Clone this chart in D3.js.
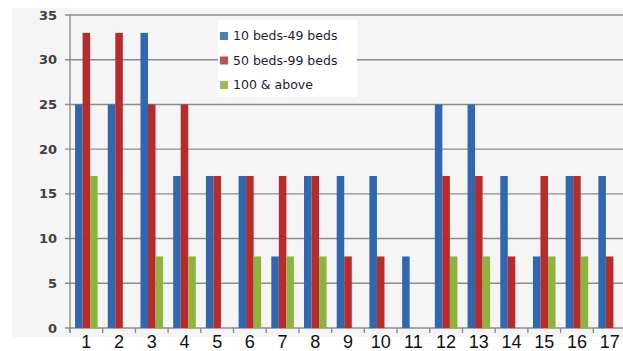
<!DOCTYPE html>
<html>
<head>
<meta charset="utf-8">
<script src="https://cdn.jsdelivr.net/npm/d3@7"></script>
<style>
  body { margin: 0; background: #fff; }
  svg { display: block; }
</style>
</head>
<body>
<svg id="chart" width="623" height="351"></svg>
<script>
// chart data
const categories = ["1","2","3","4","5","6","7","8","9","10","11","12","13","14","15","16","17"];
const seriesNames = ["10 beds-49 beds", "50 beds-99 beds", "100 & above"];
const small = [25, 25, 33, 17, 17, 17, 8, 17, 17, 17, 8, 25, 25, 17, 8, 17, 17];
const medium = [33, 33, 25, 25, 17, 17, 17, 17, 8, 8, 0, 17, 17, 8, 17, 17, 8];
const large = [17, 0, 8, 8, 0, 8, 8, 8, 0, 0, 0, 8, 8, 0, 8, 8, 0];
const yTicks = [0, 5, 10, 15, 20, 25, 30, 35];

const colors = ["#3167b1", "#b72b2b", "#8cb53e"];
const legendColors = ["#4a7ebf", "#c0504d", "#9bbb59"];
const values = [small, medium, large];

const width = 623, height = 351;
const margin = { top: 15, left: 70, bottom: 23 };
const plotRight = 626;

const svg = d3.select("#chart");

// light plot background
svg.append("rect")
  .attr("x", 12).attr("y", 8)
  .attr("width", width - 12).attr("height", 329)
  .attr("fill", "#f5f5f5");

const x = d3.scaleBand()
  .domain(categories)
  .range([margin.left, plotRight])
  .paddingInner(0.31)
  .paddingOuter(0.155);

const y = d3.scaleLinear()
  .domain([0, 35])
  .range([height - margin.bottom, margin.top]);

const xSub = d3.scaleBand()
  .domain(d3.range(seriesNames.length))
  .range([0, x.bandwidth()]);

// grid lines
svg.append("g")
  .selectAll("line")
  .data(yTicks)
  .join("line")
  .attr("x1", margin.left - 5)
  .attr("x2", width)
  .attr("y1", d => y(d))
  .attr("y2", d => y(d))
  .attr("stroke", "#8c8c8c")
  .attr("stroke-width", 1.4);

// y labels
svg.append("g")
  .selectAll("text")
  .data(yTicks)
  .join("text")
  .attr("x", 57)
  .attr("y", d => y(d))
  .attr("dy", "0.35em")
  .attr("text-anchor", "end")
  .attr("font-family", "DejaVu Sans, sans-serif")
  .attr("font-weight", "bold")
  .attr("font-size", 13)
  .attr("fill", "#404040")
  .text(d => d);

// bars
const groups = svg.append("g")
  .selectAll("g")
  .data(categories)
  .join("g")
  .attr("transform", d => `translate(${x(d)},0)`);

groups.selectAll("rect")
  .data((d, i) => values.map((s, k) => ({ k, v: s[i] })))
  .join("rect")
  .attr("x", d => xSub(d.k))
  .attr("width", xSub.bandwidth())
  .attr("y", d => y(d.v))
  .attr("height", d => y(0) - y(d.v))
  .attr("fill", d => colors[d.k]);

// left axis line
svg.append("line")
  .attr("x1", margin.left).attr("x2", margin.left)
  .attr("y1", y(35)).attr("y2", y(0) + 5)
  .attr("stroke", "#8c8c8c").attr("stroke-width", 1.4);

// x ticks between categories
const step = x.step();
svg.append("g")
  .selectAll("line")
  .data(d3.range(categories.length + 1))
  .join("line")
  .attr("x1", i => margin.left + i * step)
  .attr("x2", i => margin.left + i * step)
  .attr("y1", y(0))
  .attr("y2", y(0) + 5)
  .attr("stroke", "#8c8c8c")
  .attr("stroke-width", 1.4);

// x labels
svg.append("g")
  .selectAll("text")
  .data(categories)
  .join("text")
  .attr("x", d => x(d) + x.bandwidth() / 2)
  .attr("y", 348)
  .attr("text-anchor", "middle")
  .attr("font-family", "Liberation Sans, Arial, sans-serif")
  .attr("font-size", 18)
  .attr("fill", "#111")
  .text(d => d);

// legend
const legend = svg.append("g");
legend.append("rect")
  .attr("x", 218).attr("y", 20)
  .attr("width", 139).attr("height", 77)
  .attr("fill", "#fff");

const items = legend.selectAll("g")
  .data(seriesNames)
  .join("g")
  .attr("transform", (d, i) => `translate(220,${36 + i * 24.5})`);

items.append("rect")
  .attr("x", 0).attr("y", -4)
  .attr("width", 8).attr("height", 8)
  .attr("fill", (d, i) => legendColors[i]);

items.append("text")
  .attr("x", 13)
  .attr("dy", "0.35em")
  .attr("font-family", "DejaVu Sans, sans-serif")
  .attr("font-size", 12.5)
  .attr("fill", "#1f1a3a")
  .text(d => d);
</script>
</body>
</html>
